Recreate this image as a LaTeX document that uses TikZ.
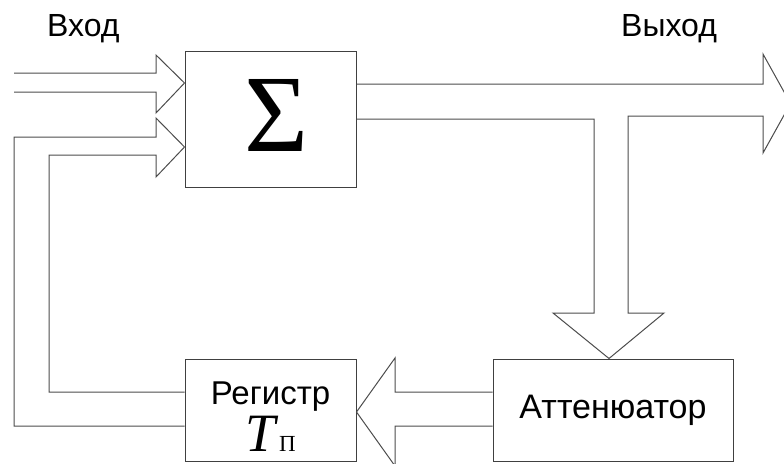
\documentclass[tikz,border=0pt]{standalone}
\usepackage{fontspec}
\setmainfont{Liberation Sans}
\newfontfamily\timesfont{Liberation Serif}
\usetikzlibrary{positioning,calc}

\begin{document}
\begin{tikzpicture}[
    x=1pt, y=-1pt,
    every node/.style={font=\fontsize{32}{36}\selectfont},
    block/.style={draw=black!75, line width=1pt, align=center, inner sep=0pt, minimum width=171pt, minimum height=102pt},
    lbl/.style={anchor=base west, inner sep=0pt},
    pipe/.style={draw=black!70, line width=1pt, line join=miter}
]
\clip (0,0) rectangle (784,463);

\node[block, minimum height=136pt] (sum) at (270.5,119) {\hspace*{12pt}\raisebox{8pt}{\timesfont\fontsize{110}{110}\selectfont Σ}};
\node[block, below=171pt of sum] (reg) {\rule{0pt}{35.6pt}\fontsize{33}{36}\selectfont Регистр\\[3.6pt]{\timesfont\fontsize{54}{54}\selectfont\itshape T}{\timesfont\fontsize{23}{23}\selectfont\,П}};
\node[block, right=136pt of reg, minimum width=240pt, font=\fontsize{34}{36}\selectfont] (att) {Аттенюатор};

\node[lbl] (inlbl) at (47,36.7) {Вход};
\node[lbl] (outlbl) at (621,36.7) {Выход};

% input
\draw[pipe] (14,73) -- (156,73) -- (156,55) -- (sum.west |- 0,83) -- (156,113) -- (156,92) -- (14,92);
% feedback from register
\draw[pipe] (reg.west |- 0,426) -- (14,426) -- (14,137) -- (156,137) -- (156,118) -- (sum.west |- 0,147)
    -- (156,177) -- (156,155) -- (49,155) -- (49,392) -- (reg.west |- 0,392);
% output and branch to attenuator
\draw[pipe] (sum.east |- 0,84) -- (763,84) -- (763,54) -- (790.5,103.5) -- (763,153) -- (763,116) -- (628,116)
    -- (628,313) -- (664,313) -- (609,0 |- att.north) -- (553,313) -- (594,313) -- (594,119) -- (sum.east |- 0,119);
% attenuator to register
\draw[pipe] (att.west |- 0,392) -- (395,392) -- (395,358) -- (reg.east |- 0,412) -- (395,466) -- (395,426) -- (att.west |- 0,426);

\end{tikzpicture}
\end{document}
